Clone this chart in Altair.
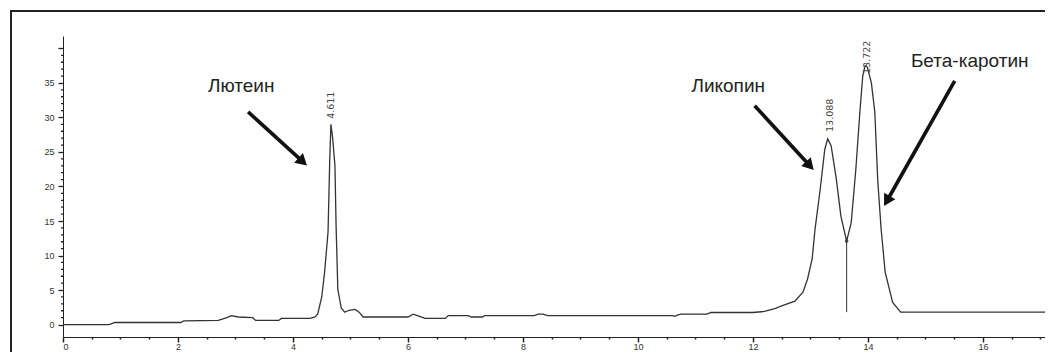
import altair as alt
import pandas as pd

# ---- data ----
rt = [0.0, 0.8, 0.85, 0.9, 2.05, 2.1, 2.7, 2.85, 2.93, 3.05, 3.3, 3.35, 3.75, 3.8,
      4.3, 4.38, 4.43, 4.5, 4.55, 4.61, 4.64, 4.66, 4.69, 4.73, 4.75, 4.78, 4.84, 4.9,
      4.95, 5.0, 5.08, 5.15, 5.22, 6.0, 6.09, 6.2, 6.3, 6.65, 6.7, 7.05, 7.1, 7.3, 7.33,
      8.2, 8.26, 8.35, 8.43, 10.6, 10.64, 10.7, 10.75, 11.2, 11.27, 11.45, 12.0, 12.2,
      12.38, 12.5, 12.73, 12.87, 12.95, 13.03, 13.08, 13.17, 13.25, 13.3, 13.36, 13.45,
      13.53, 13.63, 13.71, 13.79, 13.86, 13.91, 13.95, 13.99, 14.06, 14.12, 14.17,
      14.23, 14.3, 14.43, 14.57, 17.1]
signal = [0.0, 0.0, 0.15, 0.3, 0.3, 0.55, 0.6, 1.0, 1.3, 1.1, 1.0, 0.6, 0.6, 0.9,
          0.9, 1.1, 1.5, 4.0, 7.6, 13.4, 24.0, 29.0, 27.0, 23.0, 14.3, 5.1, 2.4, 1.8,
          2.0, 2.1, 2.2, 1.8, 1.1, 1.1, 1.5, 1.2, 0.9, 0.9, 1.3, 1.3, 1.1, 1.1, 1.3,
          1.3, 1.5, 1.5, 1.3, 1.3, 1.2, 1.4, 1.5, 1.5, 1.75, 1.75, 1.75, 1.9,
          2.3, 2.7, 3.4, 4.7, 6.6, 9.5, 13.8, 19.6, 25.4, 26.9, 25.9, 21.1,
          15.7, 12.1, 14.8, 22.5, 30.8, 36.0, 37.5, 37.3, 35.0, 30.8, 21.0,
          13.8, 7.6, 3.2, 1.8, 1.8]

peak_rt = [4.66, 13.34, 13.98]
peak_top = [29.8, 27.9, 36.3]
peak_text = ["4.611", "13.088", "13.722"]

names = ["Лютеин", "Ликопин", "Бета-каротин"]
name_x = [3.10, 11.57, 15.77]
name_y = [34.6, 34.6, 38.2]

arrow_x0 = [3.22, 12.03, 15.51]
arrow_y0 = [30.8, 31.7, 35.3]
arrow_x1 = [4.17, 12.99, 14.33]
arrow_y1 = [23.6, 23.0, 17.9]
arrow_angle = [132, 137, 210]

valley_rt = [13.63]
valley_top = [12.1]
valley_base = [1.8]

x_ticks = [i * 0.5 for i in range(0, 35)]
y_major = list(range(0, 41, 5))
y_minor = [v for v in range(0, 41) if v % 5 != 0]

# ---- tables ----
trace = pd.DataFrame({"rt": rt, "signal": signal})
peaks = pd.DataFrame({"rt": peak_rt, "top": peak_top, "text": peak_text})
labels = pd.DataFrame({"x": name_x, "y": name_y, "text": names})
arrows = pd.DataFrame({"x0": arrow_x0, "y0": arrow_y0, "x1": arrow_x1,
                       "y1": arrow_y1, "angle": arrow_angle})
valley = pd.DataFrame({"rt": valley_rt, "top": valley_top, "base": valley_base})
yminor = pd.DataFrame({"v": y_minor})
frame = pd.DataFrame({"a": [0]})

XD = [0, 17.08]
YD = [-1.8, 41.8]

xs = alt.Scale(domain=XD, nice=False, zero=False)
ys = alt.Scale(domain=YD, nice=False, zero=False)

x_axis = alt.Axis(
    values=x_ticks, title=None, grid=False, labelOverlap=False,
    labelExpr="datum.value % 2 === 0 ? format(datum.value, 'd') : ''",
    tickSize={"condition": {"test": "datum.value % 2 === 0", "value": 5}, "value": 2},
    tickColor="#222", tickWidth=1.5, domainColor="#222", domainWidth=1,
    labelFont="Liberation Sans", labelFontSize=9, labelColor="#333", labelPadding=0,
)
y_axis = alt.Axis(
    values=y_major, title=None, grid=False, labelOverlap=False,
    labelExpr="datum.value < 40 ? format(datum.value, 'd') : ''",
    tickSize=5, tickColor="#222", tickWidth=1.3, domainColor="#222", domainWidth=1,
    labelFont="Liberation Sans", labelFontSize=9, labelColor="#333", labelPadding=4,
)


def X(f):
    return alt.X(f, scale=xs, axis=x_axis)


def Y(f):
    return alt.Y(f, scale=ys, axis=y_axis)


line = alt.Chart(trace).mark_line(color="#333333", strokeWidth=1.3).encode(
    x=X("rt:Q"), y=Y("signal:Q"),
)

minor = alt.Chart(yminor).mark_rule(color="#222", strokeWidth=1.3).encode(
    y=Y("v:Q"), x=alt.value(-2), x2=alt.value(0)
)

drop = alt.Chart(valley).mark_rule(color="#333", strokeWidth=1).encode(
    x=X("rt:Q"), y=Y("top:Q"), y2="base:Q"
)
drop_dot = alt.Chart(valley).mark_point(filled=True, color="#222", size=14).encode(
    x=X("rt:Q"), y=Y("top:Q")
)

peak_lbl = alt.Chart(peaks).mark_text(
    angle=270, align="left", baseline="middle", font="DejaVu Sans",
    fontSize=9.5, color="#444"
).encode(x=X("rt:Q"), y=Y("top:Q"), text="text:N")

name_lbl = alt.Chart(labels).mark_text(
    font="Liberation Sans", fontSize=19, color="#222", align="center", baseline="middle"
).encode(x=X("x:Q"), y=Y("y:Q"), text="text:N")

shaft = alt.Chart(arrows).mark_rule(color="#111", strokeWidth=3.6).encode(
    x=X("x0:Q"), y=Y("y0:Q"), x2="x1:Q", y2="y1:Q"
)
head = alt.Chart(arrows).mark_point(
    shape="triangle-up", filled=True, color="#111", size=170, opacity=1
).encode(x=X("x1:Q"), y=Y("y1:Q"), angle=alt.Angle("angle:Q", scale=None))

box = alt.Chart(frame).mark_rect(
    filled=False, stroke="#222", strokeWidth=2
).encode(x=alt.value(-52), y=alt.value(-25), x2=alt.value(2000), y2=alt.value(2000))

chart = alt.layer(line, box, minor, drop, drop_dot, peak_lbl, shaft, head, name_lbl).properties(
    width=982, height=301,
    background="white",
    autosize=alt.AutoSizeParams(type="none"),
    padding={"left": 55, "top": 28, "right": 0, "bottom": 15},
).configure_view(stroke=None)

chart.save("out.html", embed_options={"renderer": "svg", "actions": False})
